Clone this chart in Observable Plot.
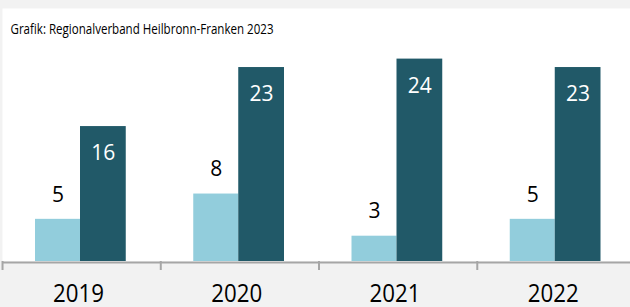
<!DOCTYPE html>
<html>
<head>
<meta charset="utf-8">
<script src="https://cdn.jsdelivr.net/npm/d3@7"></script>
<script src="https://cdn.jsdelivr.net/npm/@observablehq/plot@0.6"></script>
<style>
  html, body { margin: 0; padding: 0; background: #f2f2f2; overflow: hidden; }
  #chart svg { display: block; }
</style>
</head>
<body>
<div id="chart"></div>
<script>
const years = ["2019", "2020", "2021", "2022"];
const seriesA = [5, 8, 3, 5];      // light bars
const seriesB = [16, 23, 24, 23];  // dark bars
const caption = "Grafik: Regionalverband Heilbronn-Franken 2023";

const lightColor = "#92cddc";
const darkColor = "#215968";

const dataA = years.map((y, i) => ({year: y, value: seriesA[i]}));
const dataB = years.map((y, i) => ({year: y, value: seriesB[i]}));

const chart = Plot.plot({
  width: 630,
  height: 307,
  marginLeft: 2,
  marginRight: -5,
  marginTop: 8,
  marginBottom: 46,
  style: {background: "#f2f2f2", fontFamily: "'Open Sans', sans-serif", color: "#000"},
  x: {type: "band", domain: years, padding: 0, round: false, axis: null, label: null},
  y: {domain: [0, 30], axis: null},
  marks: [
    Plot.frame({fill: "white", stroke: "none"}),
    Plot.barY(dataA, {x: "year", y: "value", fill: lightColor, insetLeft: 33, insetRight: 80.25}),
    Plot.barY(dataB, {x: "year", y: "value", fill: darkColor, insetLeft: 78, insetRight: 34.5}),
    Plot.text(dataA, {x: "year", y: "value", text: d => String(d.value), dx: -23.6, dy: -24.5,
      lineAnchor: "middle", fontSize: 21, fill: "#000"}),
    Plot.text(dataB, {x: "year", y: "value", text: d => String(d.value), dx: 21.7, dy: 27,
      lineAnchor: "middle", fontSize: 21, fill: "white"}),
    Plot.ruleY([0], {stroke: "#a6a6a6", strokeWidth: 2, dy: 1}),
    Plot.ruleX(years, {x: d => d, dx: -79.1, y1: 0, y2: -1.07, stroke: "#a6a6a6", strokeWidth: 2}),
    Plot.axisX({tickSize: 0, tickPadding: 23, fontSize: 25, fill: "#000", label: null}),
    Plot.text([caption], {frameAnchor: "top-left", text: d => d, dx: 8, dy: 16,
      textAnchor: "start", lineAnchor: "top", fontSize: 14, fill: "#000"})
  ]
});
document.getElementById("chart").append(chart);

// condense caption and year labels to match the narrow typeface of the original
chart.querySelectorAll("text").forEach(t => {
  const s = t.textContent;
  if (s === caption) {
    t.setAttribute("textLength", 263);
    t.setAttribute("lengthAdjust", "spacingAndGlyphs");
  } else if (years.includes(s)) {
    const w = t.getComputedTextLength();
    t.setAttribute("textLength", 51);
    t.setAttribute("lengthAdjust", "spacingAndGlyphs");
    t.setAttribute("dx", -(w - 51) / 2);
  }
});
</script>
</body>
</html>
